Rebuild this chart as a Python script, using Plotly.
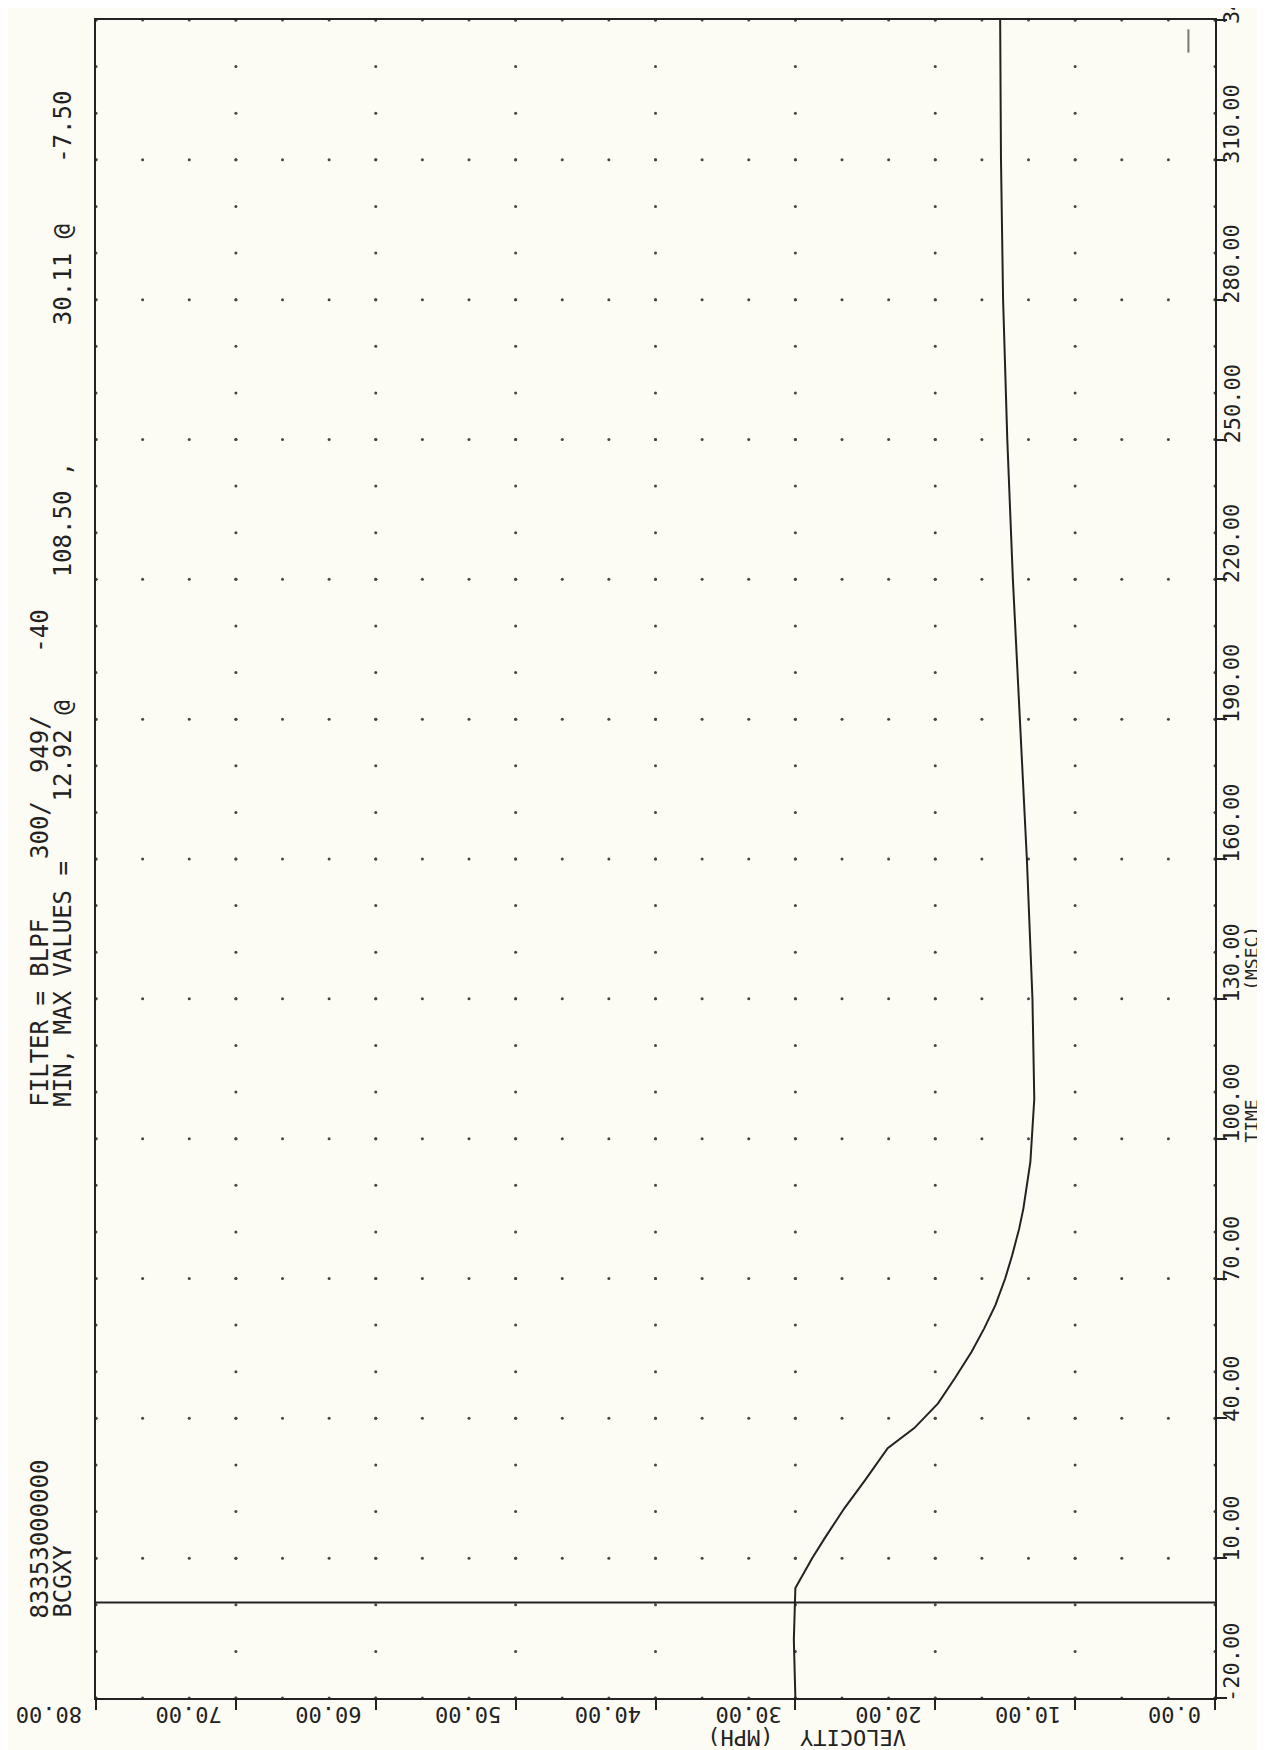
import numpy as np
import plotly.graph_objects as go

# ---------------- data ----------------
time_ms = [-20, -7.5, 3.6, 10, 14.3, 20.7, 26.8, 33.6, 37.9, 43.2, 48.6, 54.3,
           59.3, 64.3, 70, 75, 80.7, 85, 95, 108.5, 130, 160, 190, 220, 250,
           280, 310, 340]
velocity_mph = [30.0, 30.11, 30.0, 28.8, 27.9, 26.5, 25.0, 23.4, 21.5, 19.8,
                18.6, 17.4, 16.5, 15.7, 15.0, 14.5, 14.0, 13.7, 13.2, 12.92,
                13.05, 13.45, 13.95, 14.45, 14.85, 15.15, 15.3, 15.36]

# horizontal reference line across the plot (time ~ 0)
ref_time = [0.5, 0.5]
ref_vel = [80, 0]

# small stray pen mark near the top right
mark_time = [333, 338]
mark_vel = [1.9, 1.9]

time_ticks = [-20, 10, 40, 70, 100, 130, 160, 190, 220, 250, 280, 310, 340]
time_tick_labels = ["-20.00", "10.00", "40.00", "70.00", "100.00", "130.00",
                    "160.00", "190.00", "220.00", "250.00", "280.00",
                    "310.00", "340.00"]
vel_ticks = [0, 10, 20, 30, 40, 50, 60, 70, 80]
vel_tick_labels = ["0.00", "10.00", "20.00", "30.00", "40.00", "50.00",
                   "60.00", "70.00", "80.00"]

time_title_parts = ["TIME", "(MSEC)"]
time_title_at = [100, 130]
vel_title = "VELOCITY  (MPH)"

header_id = "83353000000"
header_name = "BCGXY"
filter_parts = ["FILTER = BLPF", "300/", "949/", "-40"]
filter_pos = [1100, 852, 766, 645]          # pixel row where each part starts
minmax_parts = ["MIN, MAX VALUES =", "12.92 @", "108.50 ,", "30.11 @", "-7.50"]
minmax_pos = [1100, 795, 570, 318, 155]

# ---------------- style ----------------
BG = "#fcfcf4"
INK = "#222222"
MONO = "DejaVu Sans Mono, Liberation Mono, monospace"
TICK_FONT = dict(family=MONO, size=22, color=INK)
HEAD_FONT = dict(family=MONO, size=24, color=INK)
TITLE_FONT = dict(family=MONO, size=18, color=INK)
W, H = 1265, 1750
ML, MR, MT, MB = 88, 58, 10, 60
PW = W - ML - MR
PH = H - MT - MB

fig = go.Figure()

# dotted grid: dots every 1/3 division along every major grid line
minor_v = np.linspace(vel_ticks[0], vel_ticks[-1], 3 * (len(vel_ticks) - 1) + 1)
minor_t = np.linspace(time_ticks[0], time_ticks[-1], 3 * (len(time_ticks) - 1) + 1)
gx, gy = [], []
for t in time_ticks:
    gx += list(minor_v)
    gy += [t] * len(minor_v)
for v in vel_ticks:
    gx += [v] * len(minor_t)
    gy += list(minor_t)
fig.add_trace(go.Scatter(x=gx, y=gy, mode="markers",
                         marker=dict(size=3, color="#444444"),
                         hoverinfo="skip"))

fig.add_trace(go.Scatter(x=ref_vel, y=ref_time, mode="lines",
                         line=dict(color=INK, width=2)))
fig.add_trace(go.Scatter(x=velocity_mph, y=time_ms, mode="lines",
                         line=dict(color=INK, width=2)))
fig.add_trace(go.Scatter(x=mark_vel, y=mark_time, mode="lines",
                         line=dict(color="#777777", width=2)))

ann = []
# time tick labels (read bottom-to-top, beginning at the tick)
for t, lab in zip(time_ticks, time_tick_labels):
    ann.append(dict(x=1, xref="paper", y=t, yref="y", text=lab, textangle=-90,
                    xanchor="left", yanchor="bottom", xshift=2, yshift=-6,
                    showarrow=False, font=TICK_FONT))
# velocity tick labels (upside down, beginning near the tick)
for v, lab in zip(vel_ticks, vel_tick_labels):
    ann.append(dict(x=v, xref="x", y=0, yref="paper", text=lab, textangle=180,
                    xanchor="right", yanchor="top", xshift=-12, yshift=-2,
                    showarrow=False, font=TICK_FONT))
# axis titles
for txt, t in zip(time_title_parts, time_title_at):
    ann.append(dict(x=1, xref="paper", y=t, yref="y", text=txt,
                    textangle=-90, xanchor="left", yanchor="bottom", xshift=24,
                    yshift=-6 if t == time_title_at[0] else 6,
                    showarrow=False, font=TITLE_FONT))
ann.append(dict(x=(900 - ML) / PW, xref="paper", y=0, yref="paper",
                text=vel_title, textangle=180, xanchor="right", yanchor="top",
                yshift=-25, showarrow=False, font=TICK_FONT))


def py(row):
    return (H - MB - row) / PH


colA = (32 - ML) / PW
colB = (55 - ML) / PW
ann.append(dict(x=colA, xref="paper", y=py(1612), yref="paper", text=header_id,
                textangle=-90, xanchor="center", yanchor="bottom",
                showarrow=False, font=HEAD_FONT))
ann.append(dict(x=colB, xref="paper", y=py(1612), yref="paper", text=header_name,
                textangle=-90, xanchor="center", yanchor="bottom",
                showarrow=False, font=HEAD_FONT))
for txt, row in zip(filter_parts, filter_pos):
    ann.append(dict(x=colA, xref="paper", y=py(row), yref="paper", text=txt,
                    textangle=-90, xanchor="center", yanchor="bottom",
                    showarrow=False, font=HEAD_FONT))
for txt, row in zip(minmax_parts, minmax_pos):
    ann.append(dict(x=colB, xref="paper", y=py(row), yref="paper", text=txt,
                    textangle=-90, xanchor="center", yanchor="bottom",
                    showarrow=False, font=HEAD_FONT))

fig.update_layout(width=W, height=H, margin=dict(l=ML, r=MR, t=MT, b=MB),
                  paper_bgcolor=BG, plot_bgcolor=BG, showlegend=False,
                  annotations=ann)
fig.update_xaxes(range=[80, 0], tickvals=vel_ticks, showticklabels=False,
                 ticks="outside", ticklen=10, tickwidth=2, tickcolor=INK,
                 showline=True, linewidth=2, linecolor=INK, mirror=True,
                 showgrid=False, zeroline=False)
fig.update_yaxes(range=[-20, 340], side="right", tickvals=time_ticks,
                 showticklabels=False, ticks="outside", ticklen=10,
                 tickwidth=2, tickcolor=INK, showline=True, linewidth=2,
                 linecolor=INK, mirror=True, showgrid=False, zeroline=False)

fig.write_html("out.html")
